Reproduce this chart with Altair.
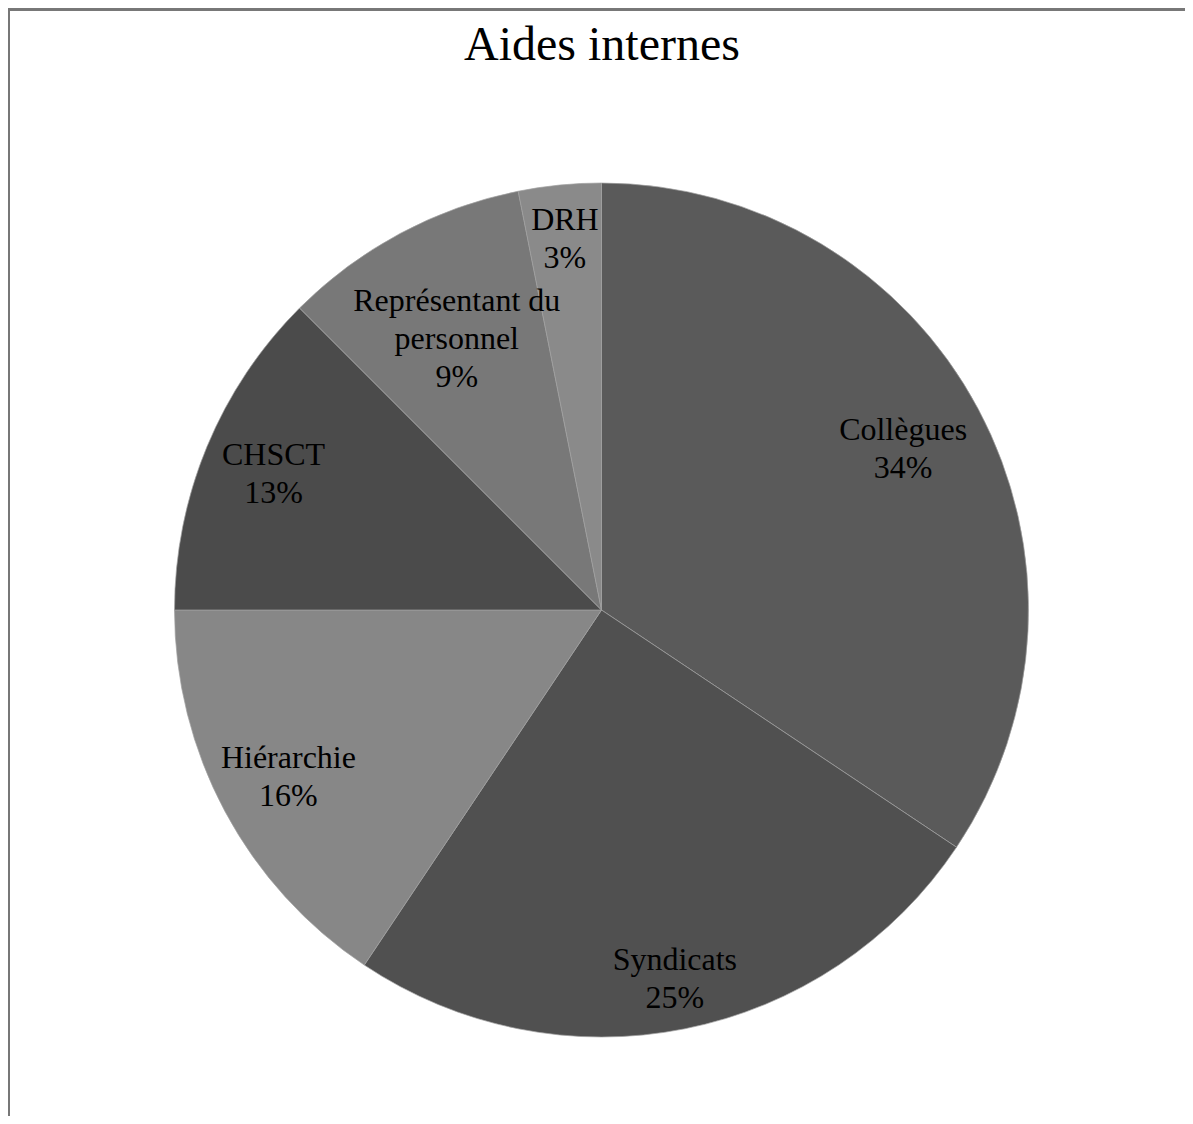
import math
import textwrap
import altair as alt
import pandas as pd

categories = ["Collègues", "Syndicats", "Hiérarchie", "CHSCT", "Représentant du personnel", "DRH"]
counts = [11, 8, 5, 4, 3, 1]
colors = ["#5a5a5a", "#505050", "#878787", "#4b4b4b", "#787878", "#8a8a8a"]

total = sum(counts)
pcts = [int(c / total * 100 + 0.5) for c in counts]
labels = ["\n".join(textwrap.wrap(c, 15)) + "\n" + f"{p}%" for c, p in zip(categories, pcts)]

# label placement (distance of each label from the pie centre, like Excel's "best fit")
label_radius = {"Collègues": 342, "Syndicats": 376, "Hiérarchie": 355, "CHSCT": 355,
                "Représentant du personnel": 307, "DRH": 373}

df = pd.DataFrame({
    "categorie": categories,
    "valeur": counts,
    "ordre": list(range(len(categories))),
    "etiquette": labels,
})
df["rayon"] = df["categorie"].map(label_radius)

W, H = 1177, 1048
PAD_TOP = 60
CX, CY = 593.5, 542
R = 427
LH = 38

theta_scale = alt.Scale(domain=[0, total], range=[0, 2 * math.pi])

base = alt.Chart(df).transform_window(
    cum="sum(valeur)", sort=[alt.SortField("ordre")]
).transform_calculate(
    debut="datum.cum - datum.valeur",
    milieu="datum.cum - datum.valeur / 2",
    nl="length(split(datum.etiquette, '\\n'))",
)

pie = base.mark_arc(radius=R, stroke="#a0a0a0", strokeWidth=0.7).encode(
    theta=alt.Theta("debut:Q", scale=theta_scale),
    theta2="cum:Q",
    x=alt.value(CX),
    y=alt.value(CY),
    color=alt.Color("categorie:N", scale=alt.Scale(domain=categories, range=colors), legend=None),
)


def text_layer(n):
    return base.transform_filter(f"datum.nl == {n}").mark_text(
        font="Liberation Serif",
        fontSize=32,
        color="black",
        lineBreak="\n",
        lineHeight=LH,
        align="center",
        baseline="middle",
        dy=-(n - 1) * LH / 2,
    ).encode(
        theta=alt.Theta("milieu:Q", scale=theta_scale),
        radius=alt.Radius("rayon:Q", scale=None),
        x=alt.value(CX),
        y=alt.value(CY),
        text="etiquette:N",
    )


text2 = text_layer(2)
text3 = text_layer(3)

title = alt.Chart(pd.DataFrame({"t": ["Aides internes"]})).mark_text(
    font="Liberation Serif",
    fontSize=48,
    color="black",
    align="center",
    baseline="middle",
).encode(
    x=alt.value(594),
    y=alt.value(-PAD_TOP + 38),
    text="t:N",
)

frame_top = alt.Chart(df).mark_rule(color="#777777", strokeWidth=2).encode(
    x=alt.value(0), x2=alt.value(W), y=alt.value(-PAD_TOP + 1.5)
)
frame_left = alt.Chart(df).mark_rule(color="#777777", strokeWidth=2).encode(
    x=alt.value(1), y=alt.value(-PAD_TOP + 1.5), y2=alt.value(H)
)

chart = alt.layer(pie, text2, text3, title, frame_top, frame_left).properties(
    width=W,
    height=H,
    autosize=alt.AutoSizeParams(type="none"),
    padding={"left": 0, "top": PAD_TOP, "right": 0, "bottom": 0},
).configure_view(stroke=None)

chart.save("out.html", embed_options={"renderer": "svg", "actions": False})
